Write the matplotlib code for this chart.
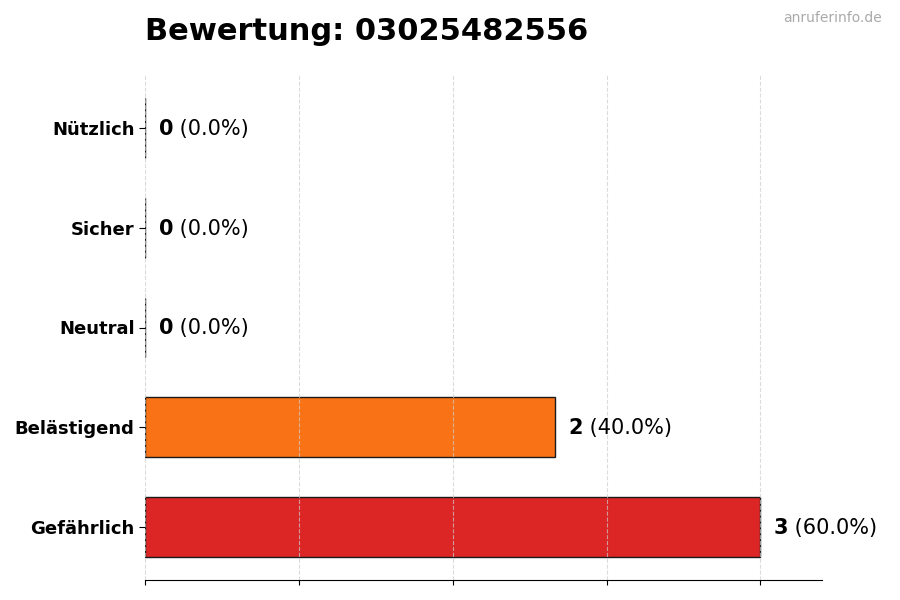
import matplotlib
matplotlib.use("Agg")
import matplotlib.pyplot as plt

categories = ["Gefährlich", "Belästigend", "Neutral", "Sicher", "Nützlich"]
counts = [3, 2, 0, 0, 0]
colors = ["#dc2626", "#f97316", "#9ca3af", "#22c55e", "#3b82f6"]
title = "Bewertung: 03025482556"
watermark = "anruferinfo.de"

total = sum(counts)
fig = plt.figure(figsize=(9, 6), dpi=100)
ax = fig.add_axes([145/900, 1-580/600, (822-145)/900, (580-75)/600])

y = list(range(len(categories)))
ax.barh(y, counts, height=0.6, color=colors, edgecolor="#1a1a1a", linewidth=1.0, zorder=2)
ax.set_yticks(y)
ax.set_yticklabels(categories, fontsize=13, fontweight="bold")
maxv = max(counts)
ax.set_xlim(0, maxv * 1.1)
ax.set_xticks([maxv * f for f in (0, 0.25, 0.5, 0.75, 1.0)])
ax.set_xticklabels([])
ax.grid(axis="x", linestyle="--", color="#cccccc", linewidth=0.8, alpha=0.7, zorder=3)
ax.set_axisbelow(False)
for s in ("top", "right", "left"):
    ax.spines[s].set_visible(False)
ax.tick_params(axis="y", length=4)

fig.canvas.draw()
renderer = fig.canvas.get_renderer()
off = maxv * 0.022
for yi, c in zip(y, counts):
    pct = 100.0 * c / total if total else 0.0
    t1 = ax.text(c + off, yi - 0.01, f"{c}", fontsize=15, fontweight="bold", va="center", ha="left", zorder=5)
    bb = t1.get_window_extent(renderer=renderer)
    xd = ax.transData.inverted().transform((bb.x1, 0))[0]
    ax.text(xd, yi - 0.01, f" ({pct:.1f}%)", fontsize=15, va="center", ha="left", zorder=5)

fig.text(145/900, 1-32/600, title, fontsize=22, fontweight="bold", va="center", ha="left")
fig.text(882/900, 1-18/600, watermark, fontsize=10, color="#aaaaaa", va="center", ha="right")

fig.savefig("out.png", dpi=100)
